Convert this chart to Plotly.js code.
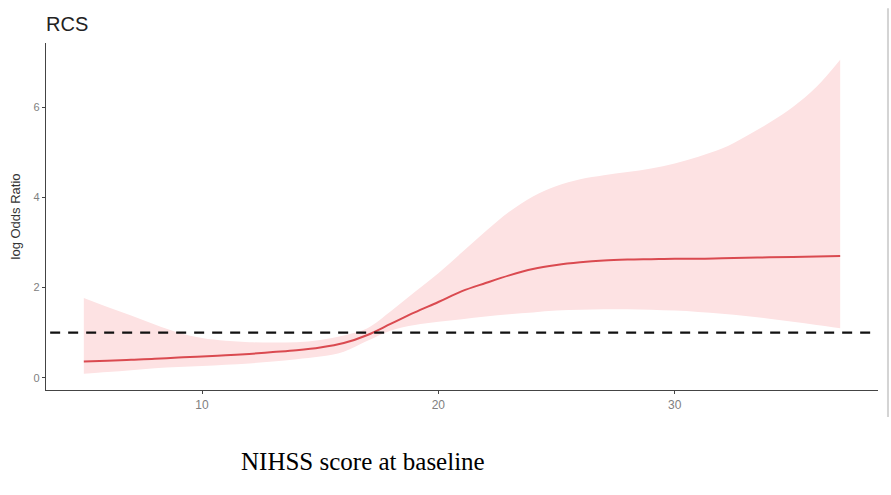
<!DOCTYPE html>
<html>
<head>
<meta charset="utf-8">
<script src="https://cdn.plot.ly/plotly-3.0.1.min.js"></script>
<style>html,body{margin:0;padding:0;background:#fff;}#chart{width:891px;height:495px;}</style>
</head>
<body>
<div id="chart"></div>
<script>
const nihss = [5,6,7,8,9,10,11,12,13,14,15,16,17,18,19,20,21,22,23,24,25,26,27,28,29,30,31,32,33,34,35,36,37];
const logOR = [0.36,0.38,0.40,0.42,0.45,0.47,0.50,0.53,0.57,0.61,0.67,0.77,0.95,1.20,1.45,1.68,1.92,2.10,2.27,2.41,2.50,2.56,2.60,2.62,2.63,2.64,2.64,2.65,2.66,2.67,2.68,2.69,2.70];
const upperCI = [1.77,1.57,1.38,1.18,1.00,0.88,0.82,0.79,0.78,0.79,0.84,0.94,1.10,1.48,1.90,2.32,2.78,3.25,3.68,4.02,4.25,4.40,4.49,4.56,4.64,4.75,4.90,5.08,5.35,5.65,6.00,6.45,7.05];
const lowerCI = [0.09,0.13,0.17,0.21,0.24,0.26,0.29,0.32,0.36,0.41,0.47,0.58,0.82,1.05,1.17,1.24,1.30,1.36,1.41,1.45,1.49,1.51,1.52,1.52,1.51,1.49,1.46,1.42,1.37,1.31,1.24,1.17,1.10];
const refValue = 1;
const xTicks = [10,20,30];
const yTicks = [0,2,4,6];

const traces = [
  {x: nihss, y: lowerCI, mode: 'lines', line: {width: 0, shape: 'spline', color: 'rgba(0,0,0,0)'}, showlegend: false, hoverinfo: 'skip'},
  {x: nihss, y: upperCI, mode: 'lines', line: {width: 0, shape: 'spline', color: 'rgba(0,0,0,0)'}, fill: 'tonexty', fillcolor: '#FDE2E3', showlegend: false, hoverinfo: 'skip'},
  {x: nihss, y: logOR, mode: 'lines', line: {width: 2, shape: 'spline', color: '#DA4A50'}, showlegend: false}
];

const layout = {
  width: 891, height: 495,
  margin: {l: 46, r: 13, t: 43, b: 105},
  paper_bgcolor: '#fff', plot_bgcolor: '#fff',
  font: {family: 'Liberation Sans, Arial, sans-serif', color: '#555'},
  title: {text: 'RCS', x: 0, xref: 'paper', xanchor: 'left', y: 0.965, yanchor: 'top',
          font: {size: 20, color: '#222', family: 'Liberation Sans, Arial, sans-serif'}},
  xaxis: {range: [3.4, 38.6], tickvals: xTicks, ticktext: xTicks.map(String), showgrid: false, zeroline: false,
          showline: true, linecolor: '#444', linewidth: 1.3, ticks: 'outside', ticklen: 3, tickcolor: '#444',
          tickfont: {size: 12, color: '#808080'}},
  yaxis: {range: [-0.27, 7.42], tickvals: yTicks, ticktext: yTicks.map(String), showgrid: false, zeroline: false,
          showline: true, linecolor: '#444', linewidth: 1.3, ticks: 'outside', ticklen: 3, tickcolor: '#444',
          tickfont: {size: 11, color: '#808080'},
          title: {text: 'log Odds Ratio', standoff: 9, font: {size: 13, color: '#333'}}},
  shapes: [
    {type: 'line', xref: 'paper', x0: 0.005, x1: 0.995, yref: 'y', y0: refValue, y1: refValue,
     line: {color: '#111', width: 2.2, dash: '10px,8px'}},
    {type: 'line', xref: 'paper', x0: 1.012, x1: 1.012, yref: 'paper', y0: -0.078, y1: 1.1,
     line: {color: '#d4d4d4', width: 2}}
  ],
  annotations: [
    {text: 'NIHSS score at baseline', xref: 'paper', yref: 'paper', x: (363-46)/832, y: -0.205,
     xanchor: 'center', yanchor: 'middle', showarrow: false,
     font: {family: 'Liberation Serif, Times New Roman, serif', size: 25, color: '#000'}}
  ]
};
Plotly.newPlot('chart', traces, layout, {displayModeBar: false, staticPlot: true});
</script>
</body>
</html>
